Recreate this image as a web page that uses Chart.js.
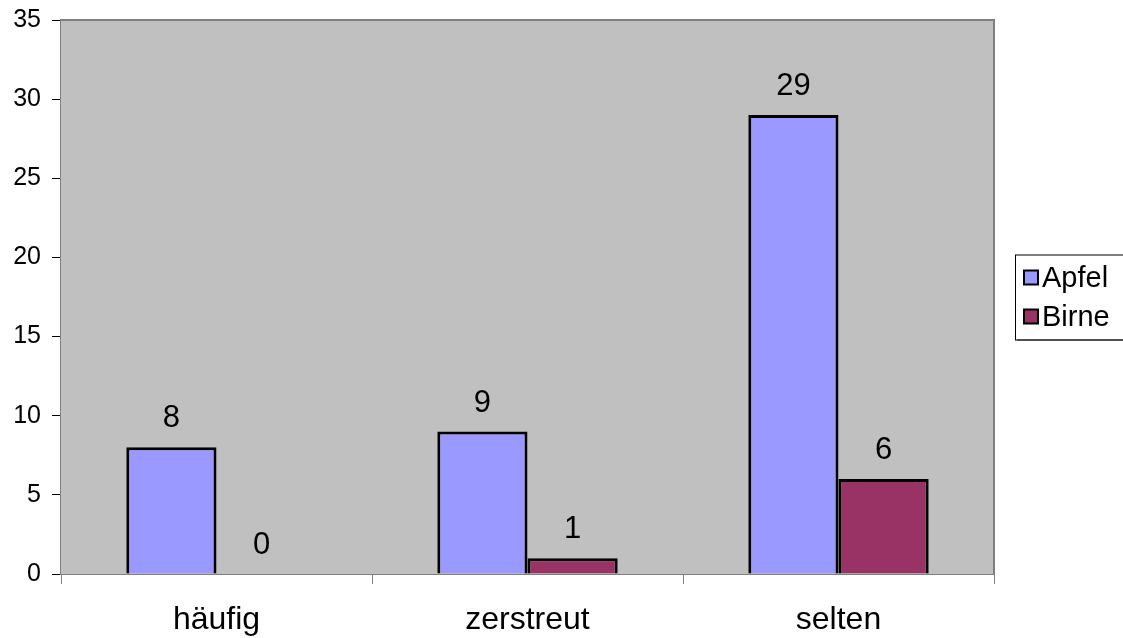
<!DOCTYPE html>
<html>
<head>
<meta charset="utf-8">
<script src="https://cdn.jsdelivr.net/npm/chart.js@4"></script>
<style>
  html, body { margin: 0; padding: 0; background: #ffffff; overflow: hidden; }
  #wrap { width: 1123px; height: 638px; position: relative; }
</style>
</head>
<body>
<div id="wrap"><canvas id="c" width="1123" height="638"></canvas></div>
<script>
// Häufigkeit von Apfel- und Birnbäumen je Kategorie
const categories = ['häufig', 'zerstreut', 'selten'];
const apfel = [8, 9, 29];
const birne = [0, 1, 6];
const seriesNames = ['Apfel', 'Birne'];
const yTicks = [0, 5, 10, 15, 20, 25, 30, 35];

const FONT = "'Liberation Sans', Arial, sans-serif";
const AXIS_GRAY = '#808080';

// grey plot background and frame
const plotFrame = {
  id: 'plotFrame',
  beforeDatasetsDraw(chart) {
    const { ctx, chartArea: a } = chart;
    ctx.save();
    ctx.fillStyle = '#C0C0C0';
    ctx.fillRect(a.left, a.top, a.right - a.left, a.bottom - a.top);
    ctx.restore();
  },
  afterDatasetsDraw(chart) {
    const { ctx, chartArea: a } = chart;
    ctx.save();
    ctx.strokeStyle = AXIS_GRAY;
    ctx.lineWidth = 2;
    ctx.beginPath();
    ctx.moveTo(a.left, a.top);
    ctx.lineTo(a.right, a.top);
    ctx.lineTo(a.right, a.bottom);
    ctx.stroke();
    ctx.restore();
  }
};

// value labels above each bar
const valueLabels = {
  id: 'valueLabels',
  afterDatasetsDraw(chart) {
    const { ctx } = chart;
    ctx.save();
    ctx.font = '31px ' + FONT;
    ctx.fillStyle = '#000';
    ctx.textAlign = 'center';
    ctx.textBaseline = 'alphabetic';
    chart.data.datasets.forEach((ds, di) => {
      const meta = chart.getDatasetMeta(di);
      meta.data.forEach((bar, i) => {
        ctx.fillText(String(ds.data[i]), bar.x, bar.y - 20);
      });
    });
    ctx.restore();
  }
};

// boxed legend to the right of the plot
const boxLegend = {
  id: 'boxLegend',
  afterDraw(chart) {
    const { ctx, chartArea: a } = chart;
    const x = a.right + 21, w = 140, h = 85;
    const y = (a.top + a.bottom) / 2 - h / 2;
    ctx.save();
    ctx.fillStyle = '#fff';
    ctx.fillRect(x, y, w, h);
    ctx.fillStyle = '#404040';
    ctx.fillRect(x + 2, y + h, w, 1);
    ctx.strokeStyle = '#000';
    ctx.lineWidth = 1;
    ctx.strokeRect(x + 0.5, y + 0.5, w, h);
    ctx.font = '29px ' + FONT;
    ctx.textBaseline = 'middle';
    ctx.textAlign = 'left';
    chart.data.datasets.forEach((ds, i) => {
      const cy = y + 23 + i * 39;
      ctx.fillStyle = ds.backgroundColor;
      ctx.fillRect(x + 9, cy - 7, 14, 14);
      ctx.lineWidth = 2;
      ctx.strokeStyle = '#000';
      ctx.strokeRect(x + 9, cy - 7, 14, 14);
      ctx.fillStyle = '#000';
      ctx.fillText(ds.label, x + 27, cy + 1);
    });
    ctx.restore();
  }
};

new Chart(document.getElementById('c'), {
  type: 'bar',
  data: {
    labels: categories,
    datasets: [
      { label: seriesNames[0], data: apfel, backgroundColor: '#9999FF', borderColor: '#000', borderWidth: 3 },
      { label: seriesNames[1], data: birne, backgroundColor: '#993366', borderColor: '#000', borderWidth: 3 }
    ]
  },
  options: {
    responsive: false,
    animation: false,
    layout: { padding: { top: 20, right: 129, left: 0, bottom: 0 } },
    datasets: { bar: { categoryPercentage: 0.58, barPercentage: 1.0 } },
    plugins: { legend: { display: false }, tooltip: { enabled: false } },
    scales: {
      x: {
        afterFit(s) { s.height = 64; s.paddingLeft = 0; s.paddingRight = 0; },
        grid: { offset: true, drawOnChartArea: false, tickLength: 10, tickColor: AXIS_GRAY, lineWidth: 1 },
        border: { color: AXIS_GRAY, width: 2 },
        ticks: { color: '#000', font: { family: FONT, size: 32 }, padding: 17 }
      },
      y: {
        min: 0, max: 35,
        afterFit(s) { s.width = 61; s.paddingTop = 0; s.paddingBottom = 0; },
        afterBuildTicks(s) { s.ticks = yTicks.map(v => ({ value: v })); },
        grid: { color: '#000', lineWidth: 1, tickLength: 9, tickColor: '#000' },
        border: { color: AXIS_GRAY, width: 2 },
        ticks: { color: '#000', font: { family: FONT, size: 25 }, padding: 11 }
      }
    }
  },
  plugins: [plotFrame, valueLabels, boxLegend]
});
</script>
</body>
</html>
